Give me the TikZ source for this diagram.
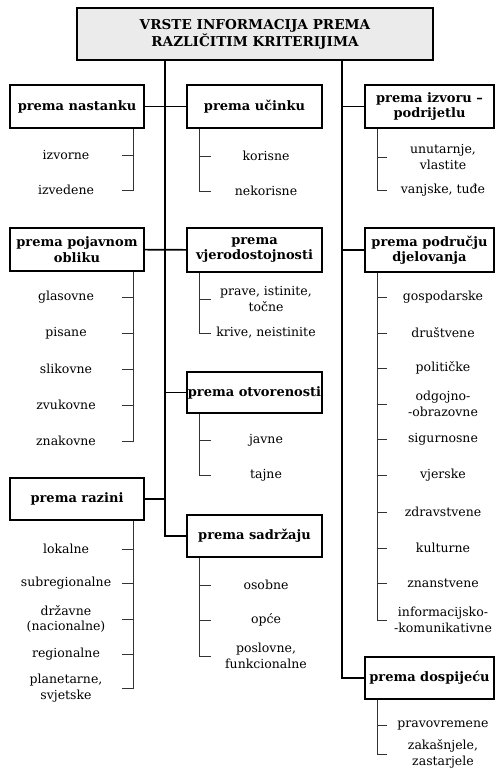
\documentclass[tikz,border=0pt]{standalone}
\usepackage{fontspec}
\setmainfont{DejaVu Serif}
\begin{document}
\begin{tikzpicture}[x=1pt,y=-1pt,
    kriterij/.style={draw, rectangle, line width=1.6pt, minimum width=134pt, minimum height=43pt, inner sep=1pt, align=center, font=\bfseries\fontsize{13}{15.5}\selectfont},
    vrsta/.style={rectangle, minimum width=112pt, inner sep=0pt, align=center, font=\fontsize{12.5}{15.5}\selectfont},
    grana/.style={line width=1.6pt},
    zagrada/.style={line width=0.8pt, black!80}]
    \useasboundingbox (0,0) rectangle (496,778);
    \coordinate (lijevo) at (165,0);
    \coordinate (desno) at (342,0);
    \coordinate (zl) at (133,0);
    \coordinate (zs) at (199,0);
    \coordinate (zd) at (377,0);

    \node (naslov) [kriterij, minimum width=356pt, minimum height=52pt, fill=black!8, font=\bfseries\fontsize{13.6}{17}\selectfont] at (255,34) {VRSTE INFORMACIJA PREMA\\RAZLIČITIM KRITERIJIMA};

    % kriteriji
    \node (nastanak) [kriterij] at (77,106.5) {prema nastanku};
    \node (pojavni) [kriterij] at (77,249.5) {prema pojavnom\\obliku};
    \node (razina) [kriterij, minimum height=42pt] at (77,499) {prema razini};
    \node (ucinak) [kriterij, minimum width=135pt] at (254.5,106.5) {prema učinku};
    \node (vjerodost) [kriterij, minimum width=135pt, minimum height=44pt] at (254.5,250) {prema\\vjerodostojnosti};
    \node (otvor) [kriterij, minimum width=135pt, minimum height=41pt] at (254.5,392.5) {prema otvorenosti};
    \node (sadrzaj) [kriterij, minimum width=135pt, minimum height=42pt] at (254.5,536) {prema sadržaju};
    \node (izvor) [kriterij, minimum width=129pt] at (429.5,106.5) {prema izvoru –\\podrijetlu};
    \node (podrucje) [kriterij, minimum width=129pt, minimum height=44pt] at (429.5,250) {prema području\\djelovanja};
    \node (dospijece) [kriterij, minimum width=129pt, minimum height=42pt] at (429.5,678) {prema dospijeću};

    % vrste, lijevi stupac
    \node (izvorne) [vrsta] at (66,155) {izvorne};
    \node (izvedene) [vrsta] at (66,190) {izvedene};
    \node (glasovne) [vrsta] at (66,297) {glasovne};
    \node (pisane) [vrsta] at (66,333) {pisane};
    \node (slikovne) [vrsta] at (66,369) {slikovne};
    \node (zvukovne) [vrsta] at (66,405) {zvukovne};
    \node (znakovne) [vrsta] at (66,441) {znakovne};
    \node (lokalne) [vrsta] at (66,549) {lokalne};
    \node (subregionalne) [vrsta] at (66,583) {subregionalne};
    \node (drzavne) [vrsta] at (66,619) {državne\\(nacionalne)};
    \node (regionalne) [vrsta] at (66,654) {regionalne};
    \node (planetarne) [vrsta] at (66,688) {planetarne,\\svjetske};

    % vrste, srednji stupac
    \node (korisne) [vrsta, minimum width=110pt] at (266,156) {korisne};
    \node (nekorisne) [vrsta, minimum width=110pt] at (266,191) {nekorisne};
    \node (prave) [vrsta, minimum width=110pt] at (266,299) {prave, istinite,\\točne};
    \node (krive) [vrsta, minimum width=110pt] at (266,333) {krive, neistinite};
    \node (javne) [vrsta, minimum width=110pt] at (266,440) {javne};
    \node (tajne) [vrsta, minimum width=110pt] at (266,475) {tajne};
    \node (osobne) [vrsta, minimum width=110pt] at (266,585) {osobne};
    \node (opce) [vrsta, minimum width=110pt] at (266,620) {opće};
    \node (poslovne) [vrsta, minimum width=110pt] at (266,656) {poslovne,\\funkcionalne};

    % vrste, desni stupac
    \node (unutarnje) [vrsta] at (443,157) {unutarnje,\\vlastite};
    \node (vanjske) [vrsta] at (443,190) {vanjske, tuđe};
    \node (gospodarske) [vrsta] at (443,297) {gospodarske};
    \node (drustvene) [vrsta] at (443,333) {društvene};
    \node (politicke) [vrsta] at (443,368) {političke};
    \node (odgojno) [vrsta] at (443,404) {odgojno-\\-obrazovne};
    \node (sigurnosne) [vrsta] at (443,439) {sigurnosne};
    \node (vjerske) [vrsta] at (443,475) {vjerske};
    \node (zdravstvene) [vrsta] at (443,512) {zdravstvene};
    \node (kulturne) [vrsta] at (443,548) {kulturne};
    \node (znanstvene) [vrsta] at (443,583) {znanstvene};
    \node (informacijsko) [vrsta] at (443,620) {informacijsko-\\-komunikativne};
    \node (pravovremene) [vrsta] at (443,725) {pravovremene};
    \node (zakasnjele) [vrsta] at (443,754) {zakašnjele,\\zastarjele};

    % grane
    \draw[grana] (naslov.south -| lijevo) |- (sadrzaj.west);
    \draw[grana] (naslov.south -| desno) |- (dospijece.west);
    \draw[grana] (nastanak) -- (ucinak);
    \draw[grana] (pojavni) -- (vjerodost);
    \draw[grana] (otvor.west) -- (otvor.west -| lijevo);
    \draw[grana] (razina.east) -- (razina.east -| lijevo);
    \draw[grana] (izvor.west) -- (izvor.west -| desno);
    \draw[grana] (podrucje.west) -- (podrucje.west -| desno);

    % zagrade
    \draw[zagrada] (nastanak.south -| zl) |- (izvedene.east);
    \draw[zagrada] (pojavni.south -| zl) |- (znakovne.east);
    \draw[zagrada] (razina.south -| zl) |- (planetarne.east);
    \foreach \v in {izvorne,glasovne,pisane,slikovne,zvukovne,lokalne,subregionalne,drzavne,regionalne}
        \draw[zagrada] (\v.east) -- (\v.east -| zl);
    \draw[zagrada] (ucinak.south -| zs) |- (nekorisne.west);
    \draw[zagrada] (vjerodost.south -| zs) |- (krive.west);
    \draw[zagrada] (otvor.south -| zs) |- (tajne.west);
    \draw[zagrada] (sadrzaj.south -| zs) |- (poslovne.west);
    \foreach \v in {korisne,prave,javne,osobne,opce}
        \draw[zagrada] (\v.west) -- (\v.west -| zs);
    \draw[zagrada] (izvor.south -| zd) |- (vanjske.west);
    \draw[zagrada] (podrucje.south -| zd) |- (informacijsko.west);
    \draw[zagrada] (dospijece.south -| zd) |- (zakasnjele.west);
    \foreach \v in {unutarnje,gospodarske,drustvene,politicke,odgojno,sigurnosne,vjerske,zdravstvene,kulturne,znanstvene,pravovremene}
        \draw[zagrada] (\v.west) -- (\v.west -| zd);
\end{tikzpicture}
\end{document}
